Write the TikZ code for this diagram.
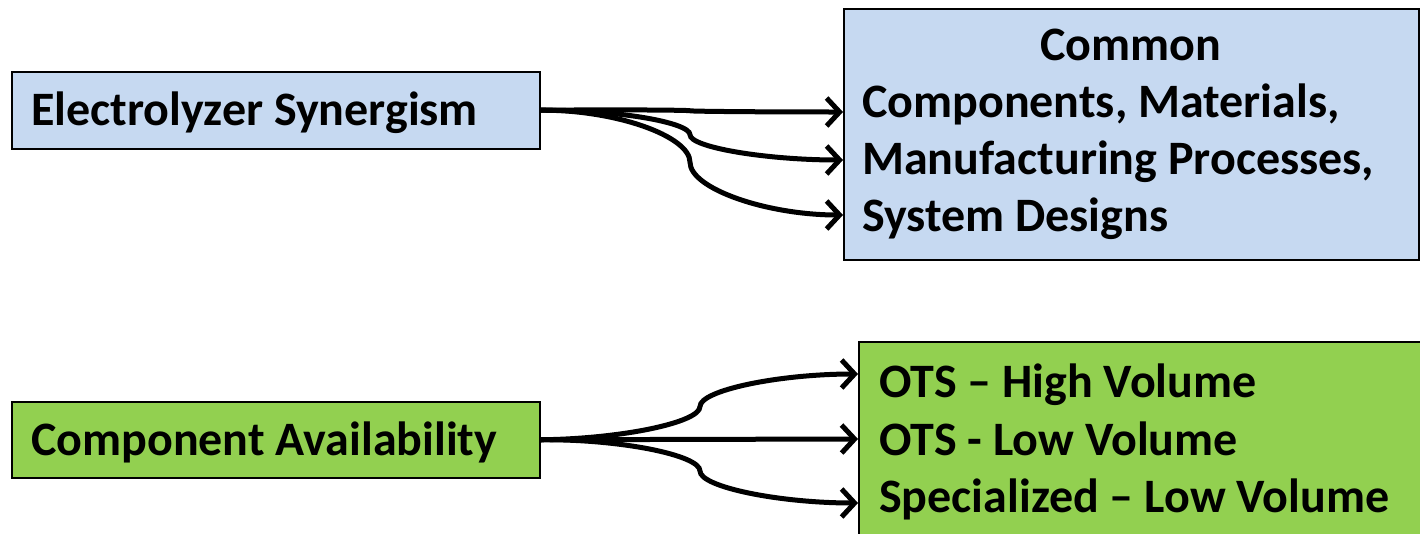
\documentclass[tikz,border=0pt]{standalone}
\usepackage{fontspec}
\setmainfont{Carlito}
\usetikzlibrary{arrows.meta}
\definecolor{boxblue}{HTML}{C6D9F1}
\definecolor{boxgreen}{HTML}{92D050}
\tikzset{
  panel/.style={draw=black, line width=1.5pt, inner sep=0pt, anchor=north west},
  linetext/.style={anchor=base west, inner sep=0pt, font=\fontsize{48}{57}\selectfont\bfseries},
  flowarrow/.style={line width=5pt, -{Straight Barb[length=13pt, width=28pt]}},
}
\begin{document}
\begin{tikzpicture}[x=1pt, y=-1pt]
\clip (0,0) rectangle (1420,533);
\fill[white] (0,0) rectangle (1420,533);

% --- upper row: synergism feeding common items ---
\node[panel, fill=boxblue, minimum width=528pt, minimum height=77pt] (es) at (11,71) {};
\node[linetext] (estext) at (31,125) {Electrolyzer Synergism};

\node[panel, fill=boxblue, minimum width=575pt, minimum height=251pt] (cm) at (843,8) {};
\node[linetext, anchor=base] (cm1) at (1130.5,60) {Common};
\node[linetext] (cm2) at (862,117) {Components, Materials,};
\node[linetext] (cm3) at (862,174) {Manufacturing Processes,};
\node[linetext] (cm4) at (862,231) {System Designs};

\coordinate (cmA) at (843,112);
\coordinate (cmB) at (843,160);
\coordinate (cmC) at (843,215);

\draw[flowarrow] (es.east) .. controls (614.5,109.5) and (690,110.1) .. (690,110.75)
                           .. controls (690,111.4) and (766.5,112) .. (cmA);
\draw[flowarrow] (es.east) .. controls (614.5,109.5) and (690,122.1) .. (690,134.75)
                           .. controls (690,147.4) and (766.5,160) .. (cmB);
\draw[flowarrow] (es.east) .. controls (614.5,109.5) and (690,135.9) .. (690,162.25)
                           .. controls (690,188.6) and (766.5,215) .. (cmC);

% --- lower row: availability classes ---
\node[panel, fill=boxgreen, minimum width=528pt, minimum height=76pt] (ca) at (11,401) {};
\node[linetext] (catext) at (31,455) {Component Availability};

\node[panel, fill=boxgreen, minimum width=600pt, minimum height=220pt] (ots) at (858,341) {};
\node[linetext] (ots1) at (879,397) {OTS – High Volume};
\node[linetext] (ots2) at (879,455) {OTS - Low Volume};
\node[linetext] (ots3) at (879,512) {Specialized – Low Volume};

\coordinate (otsA) at (858,374);
\coordinate (otsB) at (858,439);
\coordinate (otsC) at (858,503);

\draw[flowarrow] (ca.east) .. controls (619.5,439) and (700,422.75) .. (700,406.5)
                           .. controls (700,390.25) and (779,374) .. (otsA);
\draw[flowarrow] (ca.east) -- (otsB);
\draw[flowarrow] (ca.east) .. controls (619.5,439) and (700,455) .. (700,471)
                           .. controls (700,487) and (779,503) .. (otsC);
\end{tikzpicture}
\end{document}
